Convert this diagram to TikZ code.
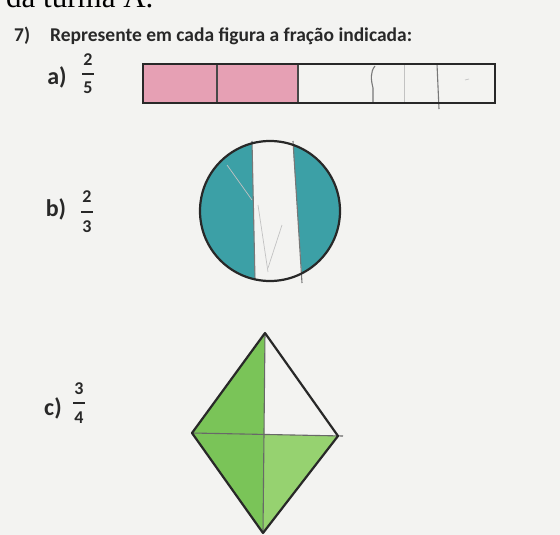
\documentclass[tikz,border=0pt]{standalone}
\usepackage{fontspec}
\setmainfont{Carlito}
\newfontfamily\serifA{Liberation Serif}
\definecolor{paper}{RGB}{243,243,241}
\definecolor{ink}{RGB}{40,40,40}
\definecolor{pinkfill}{RGB}{230,160,180}
\definecolor{tealfill}{RGB}{60,160,166}
\definecolor{greenfill}{RGB}{122,196,88}
\definecolor{greenlight}{RGB}{150,210,112}
\definecolor{pencil}{RGB}{120,120,120}
\tikzset{
  lab/.style={font=\bfseries\fontsize{24}{24}\selectfont, text=ink, inner sep=0pt},
  fracnum/.style={font=\bfseries\fontsize{18}{18}\selectfont, text=ink, inner sep=0pt},
  fracbar/.style={draw=ink, line width=1.6pt},
  box/.style={draw=ink, line width=1.6pt},
  outline/.style={draw=ink, line width=2.2pt, line join=round},
  pencilline/.style={draw=pencil, line width=1.1pt},
  darkline/.style={draw=ink!85, line width=1.3pt},
  faintline/.style={draw=pencil!45, line width=0.7pt},
}
\begin{document}
\begin{tikzpicture}[x=1pt,y=-1pt]
\useasboundingbox (0,0) rectangle (560,535);
\clip (0,0) rectangle (560,535);
\fill[paper] (0,0) rectangle (560,535);

% header text
\node[anchor=base west, inner sep=0pt, font=\serifA\fontsize{31}{31}\selectfont, text=black] (prev) at (6,7.5) {da turma A.};
\node[anchor=base west, inner sep=0pt, font=\bfseries\fontsize{19.5}{19.5}\selectfont, text=ink] (qnum) at (14,42) {7)};
\node[anchor=base west, inner sep=0pt, font=\bfseries\fontsize{19.5}{19.5}\selectfont, text=ink] (title) at (50,42) {Represente em cada figura a fração indicada:};

% a) 2/5
\node[lab] (la) at (57,77) {a)};
\node[fracnum] (an) at (88,60) {2};
\node[fracnum] (ad) at (88,88) {5};
\draw[fracbar] (82,74) -- (94,74);

\coordinate (r1) at (143,64);
\coordinate (r2) at (495,103);
\fill[pinkfill] (r1) rectangle (298,103);
\draw[darkline] (217,64) -- (217,103);
\draw[darkline] (298,64) -- (298,103);
\draw[pencilline] (375,66) .. controls (370,72) and (371,80) .. (373,88) -- (373,103);
\draw[faintline] (404,65) -- (404,103);
\draw[pencilline] (437,64) -- (439,109);
\draw[faintline] (465,80) -- (469,79);
\draw[box] (r1) rectangle (r2);

% b) 2/3
\node[lab] (lb) at (56,209) {b)};
\node[fracnum] (bn) at (87,197) {2};
\node[fracnum] (bd) at (87,227) {3};
\draw[fracbar] (81,212) -- (93,212);

\coordinate (cc) at (270,211);
\begin{scope}
  \clip (cc) circle[radius=70];
  \fill[tealfill] (190,130) -- (252,130) -- (252,147) -- (255,273) -- (255,290) -- (190,290) -- cycle;
  \fill[tealfill] (293,130) -- (350,130) -- (350,290) -- (302,290) -- (302,277) -- (293,147) -- cycle;
\end{scope}
\draw[faintline] (227,165) -- (252,200);
\draw[faintline] (258,205) -- (268,272);
\draw[faintline] (282,225) -- (268,268);
\draw[pencilline] (252,141) -- (255,280);
\draw[pencilline] (293,141) -- (302,283);
\draw[outline] (cc) circle[radius=70];

% c) 3/4
\node[lab] (lc) at (53,408) {c)};
\node[fracnum] (cn) at (79,389) {3};
\node[fracnum] (cd) at (79,418) {4};
\draw[fracbar] (73,403) -- (85,403);

\coordinate (T) at (265,333);
\coordinate (L) at (192,433);
\coordinate (R) at (338,436);
\coordinate (B) at (263,533);
\coordinate (C) at (264,434.5);
\coordinate (Rx) at (343,436);
\fill[greenfill] (T) -- (L) -- (C) -- cycle;
\fill[greenfill] (L) -- (B) -- (C) -- cycle;
\fill[greenlight] (C) -- (R) -- (B) -- cycle;
\draw[pencilline, draw=ink!70] (T) -- (B);
\draw[pencilline, draw=ink!70] (L) -- (Rx);
\draw[outline] (T) -- (R) -- (B) -- (L) -- cycle;
\end{tikzpicture}
\end{document}
